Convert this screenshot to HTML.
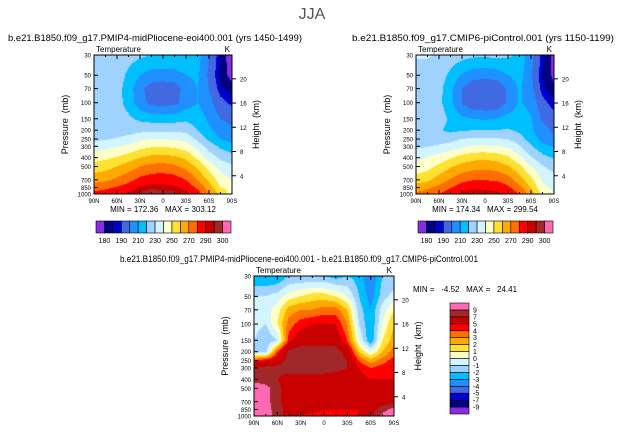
<!DOCTYPE html>
<html><head><meta charset="utf-8"><style>
body{margin:0;background:#fff;width:624px;height:433px;overflow:hidden;position:relative;font-family:"Liberation Sans",sans-serif}
canvas{position:absolute}
svg{position:absolute;left:0;top:0}
</style></head><body>
<canvas id="c1" style="left:94px;top:55px" width="138" height="139"></canvas>
<canvas id="c2" style="left:416px;top:55px" width="138" height="139"></canvas>
<canvas id="c3" style="left:254px;top:276px" width="140" height="140"></canvas>
<svg id="s" width="624" height="433"></svg>
<script>
const lats=[90,75,60,45,30,15,0,-15,-30,-45,-60,-75,-90];
const levels=[1000,850,700,500,400,300,250,200,150,100,70,50,30];
const pTicks=[30,50,70,100,150,200,250,300,400,500,700,850,1000];
const xTickLabels=["90N","60N","30N","0","30S","60S","90S"];
const xTickVals=[90,60,30,0,-30,-60,-90];
const hTicks=[4,8,12,16,20];
const tBounds=[180,185,190,200,210,220,230,240,250,260,270,280,290,295,300];
const tLabels=["180","","190","","210","","230","","250","","270","","290","","300"];
const dBounds=[-9,-7,-5,-4,-3,-2,-1,0,1,2,3,4,5,7,9];
const dLabels=["-9","-7","-5","-4","-3","-2","-1","0","1","2","3","4","5","7","9"];
const colors=["#8a2be2","#000080","#0000cd","#4169e1","#1e90ff","#00bfff","#a0d2ff","#d2f5ff","#ffffc8","#ffe132","#ffaa00","#ff6e00","#ff0000","#c80000","#a02828","#ff69b4"];
const plio=[
[283,285,288,292,297,299,298,297,292,285,272,258,245],
[276,278,281,285,291,294,293,292,287,278,265,250,248],
[266,268,272,277,283,286,286,285,280,270,258,245,240],
[254,256,260,265,270,273,274,272,267,258,246,236,232],
[246,248,251,255,260,263,264,262,258,248,236,228,224],
[235,237,239,242,246,249,249,248,245,236,225,218,214],
[228,229,231,234,238,240,240,239,237,228,218,210,206],
[225,225,225,225,227,228,228,228,227,220,212,205,202],
[225,225,225,222,218,216,215,216,218,215,208,200,197],
[225,225,224,216,204,197,196,197,205,210,204,193,188],
[225,225,224,215,203,195,194,195,204,210,200,186,182],
[225,225,225,218,210,206,205,206,210,212,198,183,178],
[225,226,226,224,222,220,220,220,220,214,200,185,175]];
const ctrl=[
[272,275,280,286,292,294.5,293.5,292.5,287.5,280,266,248,240],
[265,268,273,279,285.5,288.5,288,287,282,273,259,242,238],
[255,258,264.5,271,277,279.5,279.5,279,274.5,265,252.5,239,234],
[243,246,252.5,259,263.5,266,267,265.5,261,252.5,240.5,230.5,226.5],
[238,240.5,244,249,254,257,258,256,252,242.5,231,223,219],
[227.5,229.5,231.5,234,238,241,241,240.5,238,231,221,213.5,209],
[224,224,225,226.5,230,232,232,231,230,224,215.5,206.5,201.5],
[226,226.5,221,217.5,219,220,220,220,221,218,212,203,198.5],
[226,227,226,217.5,212,210,209,210,214,215,211,199,194.5],
[225.5,226,223,212.5,199.5,192,191,192,202,211,207,193,186],
[225,225.5,223.5,212.5,200,192,190.5,191.5,202,211.5,203,186.5,181],
[226,226,225.5,217.5,209,204.5,203.5,205,210,214,201.5,184.5,178.5],
[231,231,229,226,224,222,222,222.5,222,216.5,204,187,177]];
const diff=[
[11,10,8,6,5,4.5,4.5,4.5,4.5,5,6,10,11],
[11,10,8,6,5.5,5.5,5,5,5,5,6,8,10],
[11,10,7.5,6,6,6.5,6.5,6,5.5,5,5.5,6,6],
[11,10,7.5,6,6.5,7,7,6.5,6,5.5,5.5,5.5,5.5],
[8,7.5,7,6,6,6,6,6,6,5.5,5,5,5],
[7.5,7.5,7.5,8,8,8,8,7.5,7,5,4,4.5,5],
[4,5,6,7.5,8,8,8,8,7,4,2.5,3.5,4.5],
[-1,-1.5,4,7.5,8,8,8,8,6,2,0,2,3.5],
[-1,-2,-1,4.5,6,6,6,6,4,0,-3,1,2.5],
[-0.5,-1,1,3.5,4.5,5,5,5,3,-1,-3,0,2],
[0,-0.5,0.5,2.5,3,3,3.5,3.5,2,-1.5,-3,-0.5,1],
[-1,-1,-0.5,0.5,1,1.5,1.5,1,0,-2,-3.5,-1.5,-0.5],
[-3,-3,-3,-2,-2,-2,-2,-2.5,-2,-2.5,-4,-2,-2]];

const NS="http://www.w3.org/2000/svg";
const svg=document.getElementById('s');
function el(tag,attrs,name,parent){const e=document.createElementNS(NS,tag);for(const k in attrs)e.setAttribute(k,attrs[k]);


(parent||svg).appendChild(e);return e;}
function txt(x,y,s,size,name,anchor,extra){const t=el('text',Object.assign({x:x,y:y,'font-size':size,'text-anchor':anchor||'start',fill:'#000'},extra||{}),name);t.textContent=s;return t;}
function colorIdx(v,b){let i=0;while(i<b.length&&v>=b[i])i++;return i;}
function interp(grid,lat,p){
  let i=0;while(i<lats.length-2&&lat<lats[i+1])i++;
  const fx=(lats[i]-lat)/(lats[i]-lats[i+1]);
  const lp=Math.log(p);let j=0;while(j<levels.length-2&&p<levels[j+1])j++;
  const fy=(Math.log(levels[j])-lp)/(Math.log(levels[j])-Math.log(levels[j+1]));
  const a=grid[j][i]*(1-fx)+grid[j][i+1]*fx,b=grid[j+1][i]*(1-fx)+grid[j+1][i+1]*fx;
  return a*(1-fy)+b*fy;}
function panel(cid,L,T,W,H,grid,bounds){
  const R=Math.log(1000/30);
  const xs=lat=>L+(90-lat)/180*W;
  const ys=p=>T+H-H*Math.log(1000/p)/R;
  const cv=document.getElementById(cid),ctx=cv.getContext('2d');
  for(let px=0;px<W;px++)for(let py=0;py<H;py++){
    const lat=90-(px+0.5)/W*180;const p=30*Math.exp((py+0.5)/H*R);
    ctx.fillStyle=colors[colorIdx(interp(grid,lat,p),bounds)];ctx.fillRect(px,py,1,1);}
  el('rect',{x:L,y:T,width:W,height:H,fill:'none',stroke:'#000','stroke-width':1},'plot-frame');
  xTickVals.forEach((v,k)=>{const x=xs(v);
    el('line',{x1:x,y1:T+H,x2:x,y2:T+H-4,stroke:'#000'},'x-tick');
    el('line',{x1:x,y1:T,x2:x,y2:T+4,stroke:'#000'},'x-tick-top');
    txt(x,T+H+9,xTickLabels[k],6,'x-tick-label','middle');});
  for(let v=75;v>-90;v-=15){if(v%30===0)continue;const x=xs(v);
    el('line',{x1:x,y1:T+H,x2:x,y2:T+H-2,stroke:'#000'},'x-minor-tick');
    el('line',{x1:x,y1:T,x2:x,y2:T+2,stroke:'#000'},'x-minor-tick-top');}
  pTicks.forEach(p=>{const y=ys(p);
    el('line',{x1:L,y1:y,x2:L+4,y2:y,stroke:'#000'},'y-tick');
    txt(L-3,y+2.5,String(p),6,'y-tick-label','end');});
  const hy=z=>T+145-6.06*z;
  hTicks.forEach(z=>{const y=hy(z);
    el('line',{x1:L+W,y1:y,x2:L+W+4,y2:y,stroke:'#000'},'height-tick');
    txt(L+W+8,y+2.5,String(z),6,'height-tick-label','start');});
  txt(L+2,T-3,'Temperature',8,'field-label');
  txt(L+W-2,T-3,'K',8,'units-label','end');
  const ty=T+H/2;
  txt(L-26,ty,'Pressure\u00a0\u00a0(mb)',9,'y-axis-title','middle',{transform:`rotate(-90 ${L-26} ${ty})`});
  txt(L+W+27,ty,'Height\u00a0\u00a0(km)',9,'right-axis-title','middle',{transform:`rotate(-90 ${L+W+27} ${ty})`});
}
txt(312,19,'JJA',16,'main-title','middle',{fill:'#555'});
txt(8,41,'b.e21.B1850.f09_g17.PMIP4-midPliocene-eoi400.001 (yrs 1450-1499)',9,'left-title','start',{textLength:294,lengthAdjust:'spacingAndGlyphs'});
txt(352,41,'b.e21.B1850.f09_g17.CMIP6-piControl.001 (yrs 1150-1199)',9,'right-title','start',{textLength:262,lengthAdjust:'spacingAndGlyphs'});
txt(120,262,'b.e21.B1850.f09_g17.PMIP4-midPliocene-eoi400.001 - b.e21.B1850.f09_g17.CMIP6-piControl.001',9,'diff-title','start',{textLength:358,lengthAdjust:'spacingAndGlyphs'});
panel('c1',94,55,138,139,plio,tBounds);
panel('c2',416,55,138,139,ctrl,tBounds);
panel('c3',254,276,140,140,diff,dBounds);
txt(163,212,'MIN = 172.36\u00a0\u00a0\u00a0MAX = 303.12',8,'left-minmax','middle');
txt(485,212,'MIN = 174.34\u00a0\u00a0\u00a0MAX = 299.54',8,'right-minmax','middle');
txt(413,292,'MIN =\u00a0\u00a0\u00a0-4.52\u00a0\u00a0\u00a0MAX =\u00a0\u00a0\u00a024.41',8,'diff-minmax','start');
function hbar(L,T,W,Hh,name){const bw=W/16;
  colors.forEach((c,i)=>el('rect',{x:L+i*bw,y:T,width:bw,height:Hh,fill:c,stroke:'#000','stroke-width':0.6},name+'-box'));
  tLabels.forEach((s,i)=>{if(s)txt(L+(i+1)*bw,T+Hh+10,s,7,name+'-label','middle');});}
hbar(96,221,135,12,'left-colorbar');
hbar(418,221,135,12,'right-colorbar');
(function(){const L=450,T=303,W=19,H=111,bh=H/16;
  colors.forEach((c,i)=>el('rect',{x:L,y:T+H-(i+1)*bh,width:W,height:bh,fill:c,stroke:'#000','stroke-width':0.6},'diff-colorbar-box'));
  dLabels.forEach((s,i)=>txt(L+W+4,T+H-(i+1)*bh+2.5,s,7,'diff-colorbar-label','start'));})();
</script>
</body></html>
